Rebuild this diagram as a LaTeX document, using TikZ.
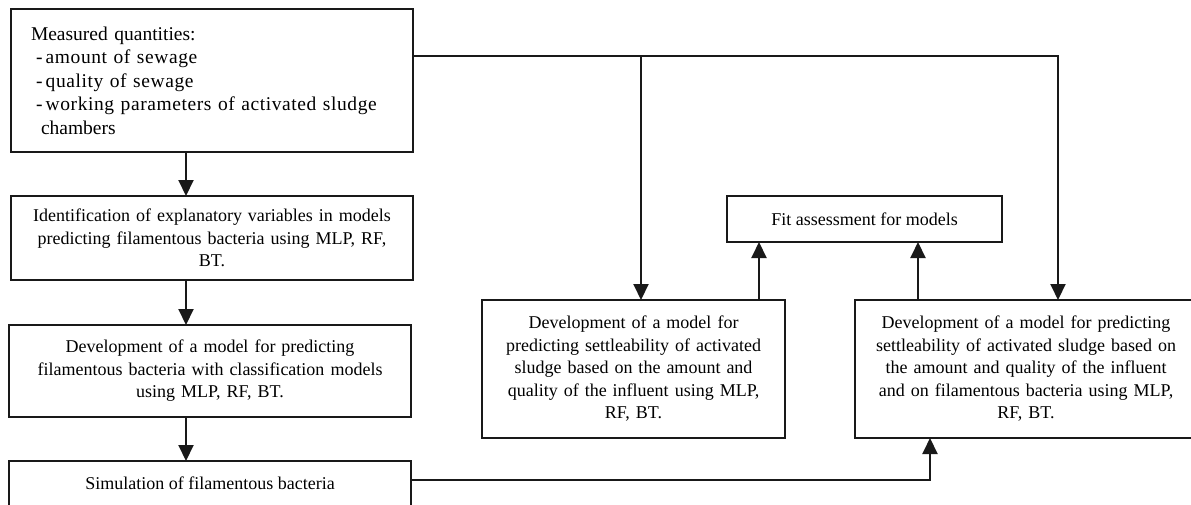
\documentclass[tikz,border=0pt]{standalone}
\usepackage{fontspec}
\setmainfont{Liberation Serif}
\usetikzlibrary{arrows.meta}
\newcommand{\bulletline}[1]{\hspace*{5pt}-\,{\addfontfeature{LetterSpace=3}#1}}
\begin{document}
\begin{tikzpicture}[x=1pt,y=-1pt,
 box/.style={draw=black!90, line width=2pt, inner sep=0pt, outer sep=0pt, align=center, font=\fontsize{18}{22.5}\selectfont},
 arr/.style={draw=black!90, line width=2pt, -{Triangle[width=15pt,length=16pt]}},
 ln/.style={draw=black!90, line width=2pt}]
\useasboundingbox (0,0) rectangle (1191,504);
\clip (0,0) rectangle (1191,504);
\node[box, minimum width=402pt, minimum height=143pt, text width=362pt, align=left, font=\fontsize{19.5}{23.5}\selectfont] (meas) at (212,80.5)
 {Measured quantities:\\
 \bulletline{amount of sewage}\\
 \bulletline{quality of sewage}\\
 \bulletline{working parameters of activated sludge}\\
 \hspace*{10pt}chambers};
\node[box, minimum width=402pt, minimum height=84pt, text width=380pt] (ident) at (212,238)
 {Identification of explanatory variables in models\\ predicting filamentous bacteria using MLP, RF,\\ BT.};
\node[box, minimum width=402pt, minimum height=92pt, text width=380pt] (devf) at (210,371)
 {Development of a model for predicting\\ filamentous bacteria with classification models\\ using MLP, RF, BT.};
\node[box, minimum width=402pt, minimum height=45pt] (sim) at (210,483.5)
 {Simulation of filamentous bacteria};
\node[box, minimum width=275pt, minimum height=46pt] (fit) at (864.5,219)
 {Fit assessment for models};
\node[box, minimum width=303pt, minimum height=138pt, text width=295pt] (mid) at (633.5,369)
 {Development of a model for\\ predicting settleability of activated\\ sludge based on the amount and\\ quality of the influent using MLP,\\ RF, BT.};
\node[box, minimum width=342pt, minimum height=138pt, text width=330pt] (right) at (1026,369)
 {Development of a model for predicting\\ settleability of activated sludge based on\\ the amount and quality of the influent\\ and on filamentous bacteria using MLP,\\ RF, BT.};
\coordinate (j1) at (641,56);
\coordinate (c1) at (1058,56);
\coordinate (u1) at (759,0);
\coordinate (u2) at (918,0);
\coordinate (b1) at (930,480);
\draw[arr] ([xshift=-26pt]meas.south) -- ([xshift=-26pt]ident.north);
\draw[arr] ([xshift=-26pt]ident.south) -- ([xshift=-24pt]devf.north);
\draw[arr] ([xshift=-24pt]devf.south) -- ([xshift=-24pt]sim.north);
\draw[arr] (meas.east |- c1) -- (c1) -- (right.north -| c1);
\draw[arr] (j1) -- (mid.north -| j1);
\draw[arr] (mid.north -| u1) -- (fit.south -| u1);
\draw[arr] (right.north -| u2) -- (fit.south -| u2);
\draw[arr] (sim.east |- b1) -- (b1) -- (right.south -| b1);
\end{tikzpicture}
\end{document}
